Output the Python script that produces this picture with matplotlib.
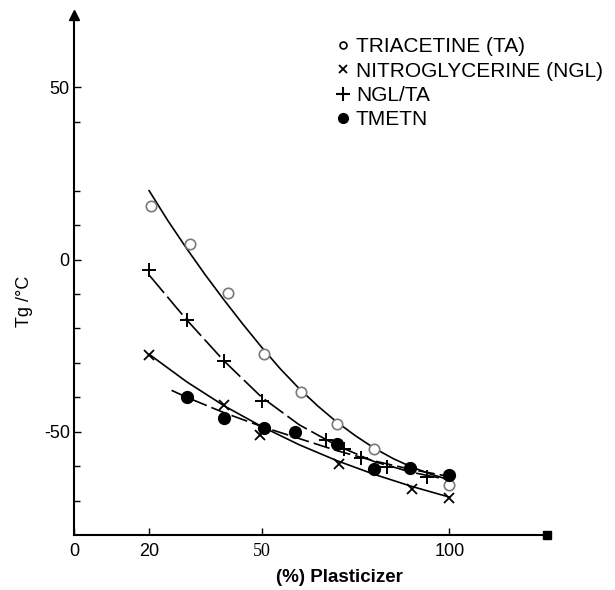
import matplotlib
matplotlib.use('Agg')
import matplotlib.pyplot as plt
from matplotlib.lines import Line2D

plt.rcParams['font.family'] = ['Liberation Sans', 'DejaVu Sans']
plt.rcParams['axes.unicode_minus'] = False

# measured points (% plasticizer, Tg in degC)
ta_x = [20.5, 31, 41, 50.5, 60.5, 70, 80, 100]
ta_y = [15.4, 4.6, -9.8, -27.3, -38.5, -47.8, -55, -65.5]
ngl_x = [20, 40, 49.5, 70.5, 90, 100]
ngl_y = [-27.7, -42.3, -51, -59.4, -66.5, -69.2]
mix_x = [20, 30, 40, 50, 67, 72, 76.5, 83.5, 94]
mix_y = [-3, -17.5, -29.5, -41, -52.5, -55, -57.5, -60.3, -63.2]
tm_x = [30, 40, 50.5, 59, 70, 80, 89.5, 100]
tm_y = [-40, -46, -48.8, -50, -53.7, -60.8, -60.4, -62.6]

# hand drawn trend curves
ta_cx = [20, 25, 30, 35, 40, 45, 50, 55, 60, 65, 70, 75, 80, 85, 90, 95, 100]
ta_cy = [20, 11.3, 3.2, -4.5, -11.8, -18.8, -25.5, -31.8, -37.5, -42.6, -47.2,
         -51.2, -54.8, -57.8, -60.3, -62.3, -64]
ngl_cx = [20, 30, 40, 50, 60, 70, 80, 90, 100]
ngl_cy = [-27.5, -35.5, -42.5, -48.5, -53.8, -58.4, -62.4, -65.9, -69]
mix_cx = [20, 30, 40, 50, 60, 70, 80, 90, 100]
mix_cy = [-4.5, -17.5, -29.5, -40, -48, -54, -58.7, -61.8, -64]
tm_cx = [26, 30, 40, 50, 60, 70, 80, 90, 100]
tm_cy = [-38, -40, -44.5, -48.5, -52, -55.5, -58.5, -61, -63]

fig = plt.figure(figsize=(6.15, 5.9), dpi=100)
ax = fig.add_axes([74/615, 55/590, 473/615, 520/590])

lw = 1.2
ax.plot(ta_cx, ta_cy, color='black', lw=lw)
ax.plot(ngl_cx, ngl_cy, color='black', lw=lw)
ax.plot(mix_cx, mix_cy, color='black', lw=lw, dashes=(14, 3))
ax.plot(tm_cx, tm_cy, color='black', lw=lw, dashes=(10, 3))

ax.plot(ta_x, ta_y, 'o', ms=7.5, mfc='white', mec='#7a7a7a', mew=1.2, zorder=5)
ax.plot(ngl_x, ngl_y, 'x', ms=7, color='black', mew=1.3, zorder=5)
ax.plot(mix_x, mix_y, '+', ms=10, color='black', mew=1.4, zorder=5)
ax.plot(tm_x, tm_y, 'o', ms=8.5, color='black', zorder=5)

ax.set_xlim(0, 126)
ax.set_ylim(-80, 71)
for s in ['top', 'right']:
    ax.spines[s].set_visible(False)
for s in ['left', 'bottom']:
    ax.spines[s].set_linewidth(1.5)

# axis arrow and end block
ax.plot(0, 71, marker='^', ms=7, color='black', clip_on=False)
ax.plot(126, -80, marker='s', ms=6, color='black', clip_on=False)

ax.set_xticks([0, 20, 50, 100])
ax.set_xticklabels(['0', '20', '50', '100'])
ax.set_yticks([-50, 0, 50])
ax.set_yticks([-70, -60, -40, -30, -20, -10, 10, 20, 40], minor=True)
ax.tick_params(axis='both', which='both', direction='in', width=1, labelsize=13)
ax.tick_params(axis='both', which='major', length=5)
ax.tick_params(axis='y', which='minor', length=4)
ax.tick_params(axis='x', pad=6)
ax.tick_params(axis='y', pad=3)
ax.get_xticklabels()[2].set_fontfamily('Liberation Serif')

ax.set_ylabel('Tg /°C', fontsize=13)
ax.yaxis.set_label_coords(-0.087, 0.45)
ax.set_xlabel('(%) Plasticizer', fontsize=13.5, fontweight='bold')
ax.xaxis.set_label_coords(0.562, -0.065)

handles = [
    Line2D([], [], ls='none', marker='o', ms=5, mfc='white', mec='black', mew=1.2),
    Line2D([], [], ls='none', marker='x', ms=6, color='black', mew=1.3),
    Line2D([], [], ls='none', marker='+', ms=10, color='black', mew=1.5),
    Line2D([], [], ls='none', marker='o', ms=7, color='black'),
]
labels = ['TRIACETINE (TA)', 'NITROGLYCERINE (NGL)', 'NGL/TA', 'TMETN']
fig.legend(handles, labels, loc='upper left', bbox_to_anchor=(337/615, 1 - 37.5/590),
           frameon=False, fontsize=15, handlelength=0.6, handletextpad=0.3,
           labelspacing=0.25, borderaxespad=0, borderpad=0)

fig.savefig('out.png', dpi=100)
